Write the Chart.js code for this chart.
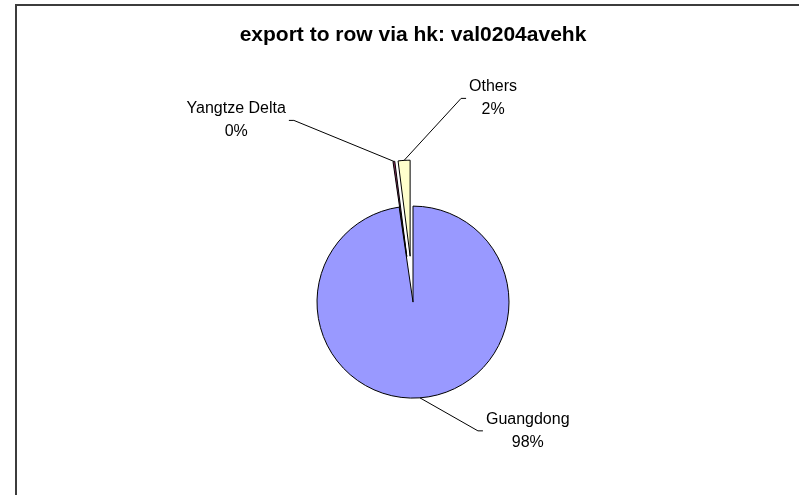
<!DOCTYPE html>
<html>
<head>
<meta charset="utf-8">
<title>export to row via hk: val0204avehk</title>
<script src="https://cdn.jsdelivr.net/npm/chart.js@4.4.1/dist/chart.umd.min.js"></script>
<style>
  html, body { margin: 0; padding: 0; background: #ffffff; }
  canvas { display: block; }
</style>
</head>
<body>
<canvas id="pieChart" width="799" height="495"></canvas>
<script>
// Chart data
const regions = ['Guangdong', 'Yangtze Delta', 'Others'];
const shares = [97.7, 0.3, 2.0];
const chartTitle = 'export to row via hk: val0204avehk';

// Slice styling (Excel default palette)
const sliceColors = ['#9999FF', '#993366', '#FFFFCC'];
const explode = [0, 46, 46];
// Leader line elbow, relative to the slice's outer edge
const leaderOffsets = [{ dx: 58, dy: 33 }, { dx: -100, dy: -41 }, { dx: 57, dy: -62 }];

const labelFont = '16px "Liberation Sans", Arial, sans-serif';

// Exploded slices are moved as a whole (Chart.js would also stretch them)
const baseArcDraw = Chart.ArcElement.prototype.draw;
Chart.ArcElement.prototype.draw = function (ctx) {
    const shift = this.options.offset || 0;
    if (!shift) {
        baseArcDraw.call(this, ctx);
        return;
    }
    const mid = (this.startAngle + this.endAngle) / 2;
    const opts = this.options;
    ctx.save();
    ctx.translate(Math.cos(mid) * shift, Math.sin(mid) * shift);
    this.options = Object.assign({}, opts, { offset: 0 });
    baseArcDraw.call(this, ctx);
    this.options = opts;
    ctx.restore();
};

// Frame round the chart (cut off at right and bottom)
const framePlugin = {
    id: 'frame',
    beforeDraw(chart) {
        const ctx = chart.ctx;
        ctx.save();
        ctx.fillStyle = '#3c3c3c';
        ctx.fillRect(15, 4, chart.width - 15, 2);
        ctx.fillRect(15, 4, 2, chart.height - 4);
        ctx.restore();
    }
};

// Category name + percentage outside each slice, with a leader line
const sliceLabels = {
    id: 'sliceLabels',
    afterDatasetsDraw(chart) {
        const ctx = chart.ctx;
        const meta = chart.getDatasetMeta(0);
        const total = shares.reduce((a, b) => a + b, 0);
        ctx.save();
        ctx.font = labelFont;
        ctx.fillStyle = '#000000';
        ctx.strokeStyle = '#000000';
        ctx.lineWidth = 1;
        ctx.textBaseline = 'middle';
        ctx.textAlign = 'center';
        meta.data.forEach((arc, i) => {
            const mid = (arc.startAngle + arc.endAngle) / 2;
            const r = arc.outerRadius + explode[i];
            const sx = arc.x + Math.cos(mid) * r;
            const sy = arc.y + Math.sin(mid) * r;
            const ex = sx + leaderOffsets[i].dx;
            const ey = sy + leaderOffsets[i].dy;
            const dir = leaderOffsets[i].dx < 0 ? -1 : 1;
            const hx = ex + dir * 5;

            ctx.beginPath();
            ctx.moveTo(sx, sy);
            ctx.lineTo(ex, ey);
            ctx.lineTo(hx, ey);
            ctx.stroke();

            const name = regions[i];
            const pct = Math.round(shares[i] / total * 100) + '%';
            const w = Math.max(ctx.measureText(name).width, ctx.measureText(pct).width);
            const cx = hx + dir * (3 + w / 2);
            ctx.fillText(name, cx, ey - 11.5);
            ctx.fillText(pct, cx, ey + 11.5);
        });
        ctx.restore();
    }
};

new Chart(document.getElementById('pieChart'), {
    type: 'pie',
    data: {
        labels: regions,
        datasets: [{
            data: shares,
            backgroundColor: sliceColors,
            borderColor: '#000000',
            borderWidth: 1,
            offset: explode
        }]
    },
    options: {
        responsive: false,
        animation: false,
        events: [],
        radius: 96,
        layout: {
            padding: { left: 27, right: 0, top: 0, bottom: 0 }
        },
        plugins: {
            legend: { display: false },
            tooltip: { enabled: false },
            title: {
                display: true,
                text: chartTitle,
                color: '#000000',
                font: { family: '"Liberation Sans", Arial, sans-serif', size: 21, weight: 'bold', lineHeight: 1.2 },
                padding: { top: 23, bottom: 61 }
            }
        }
    },
    plugins: [framePlugin, sliceLabels]
});
</script>
</body>
</html>
